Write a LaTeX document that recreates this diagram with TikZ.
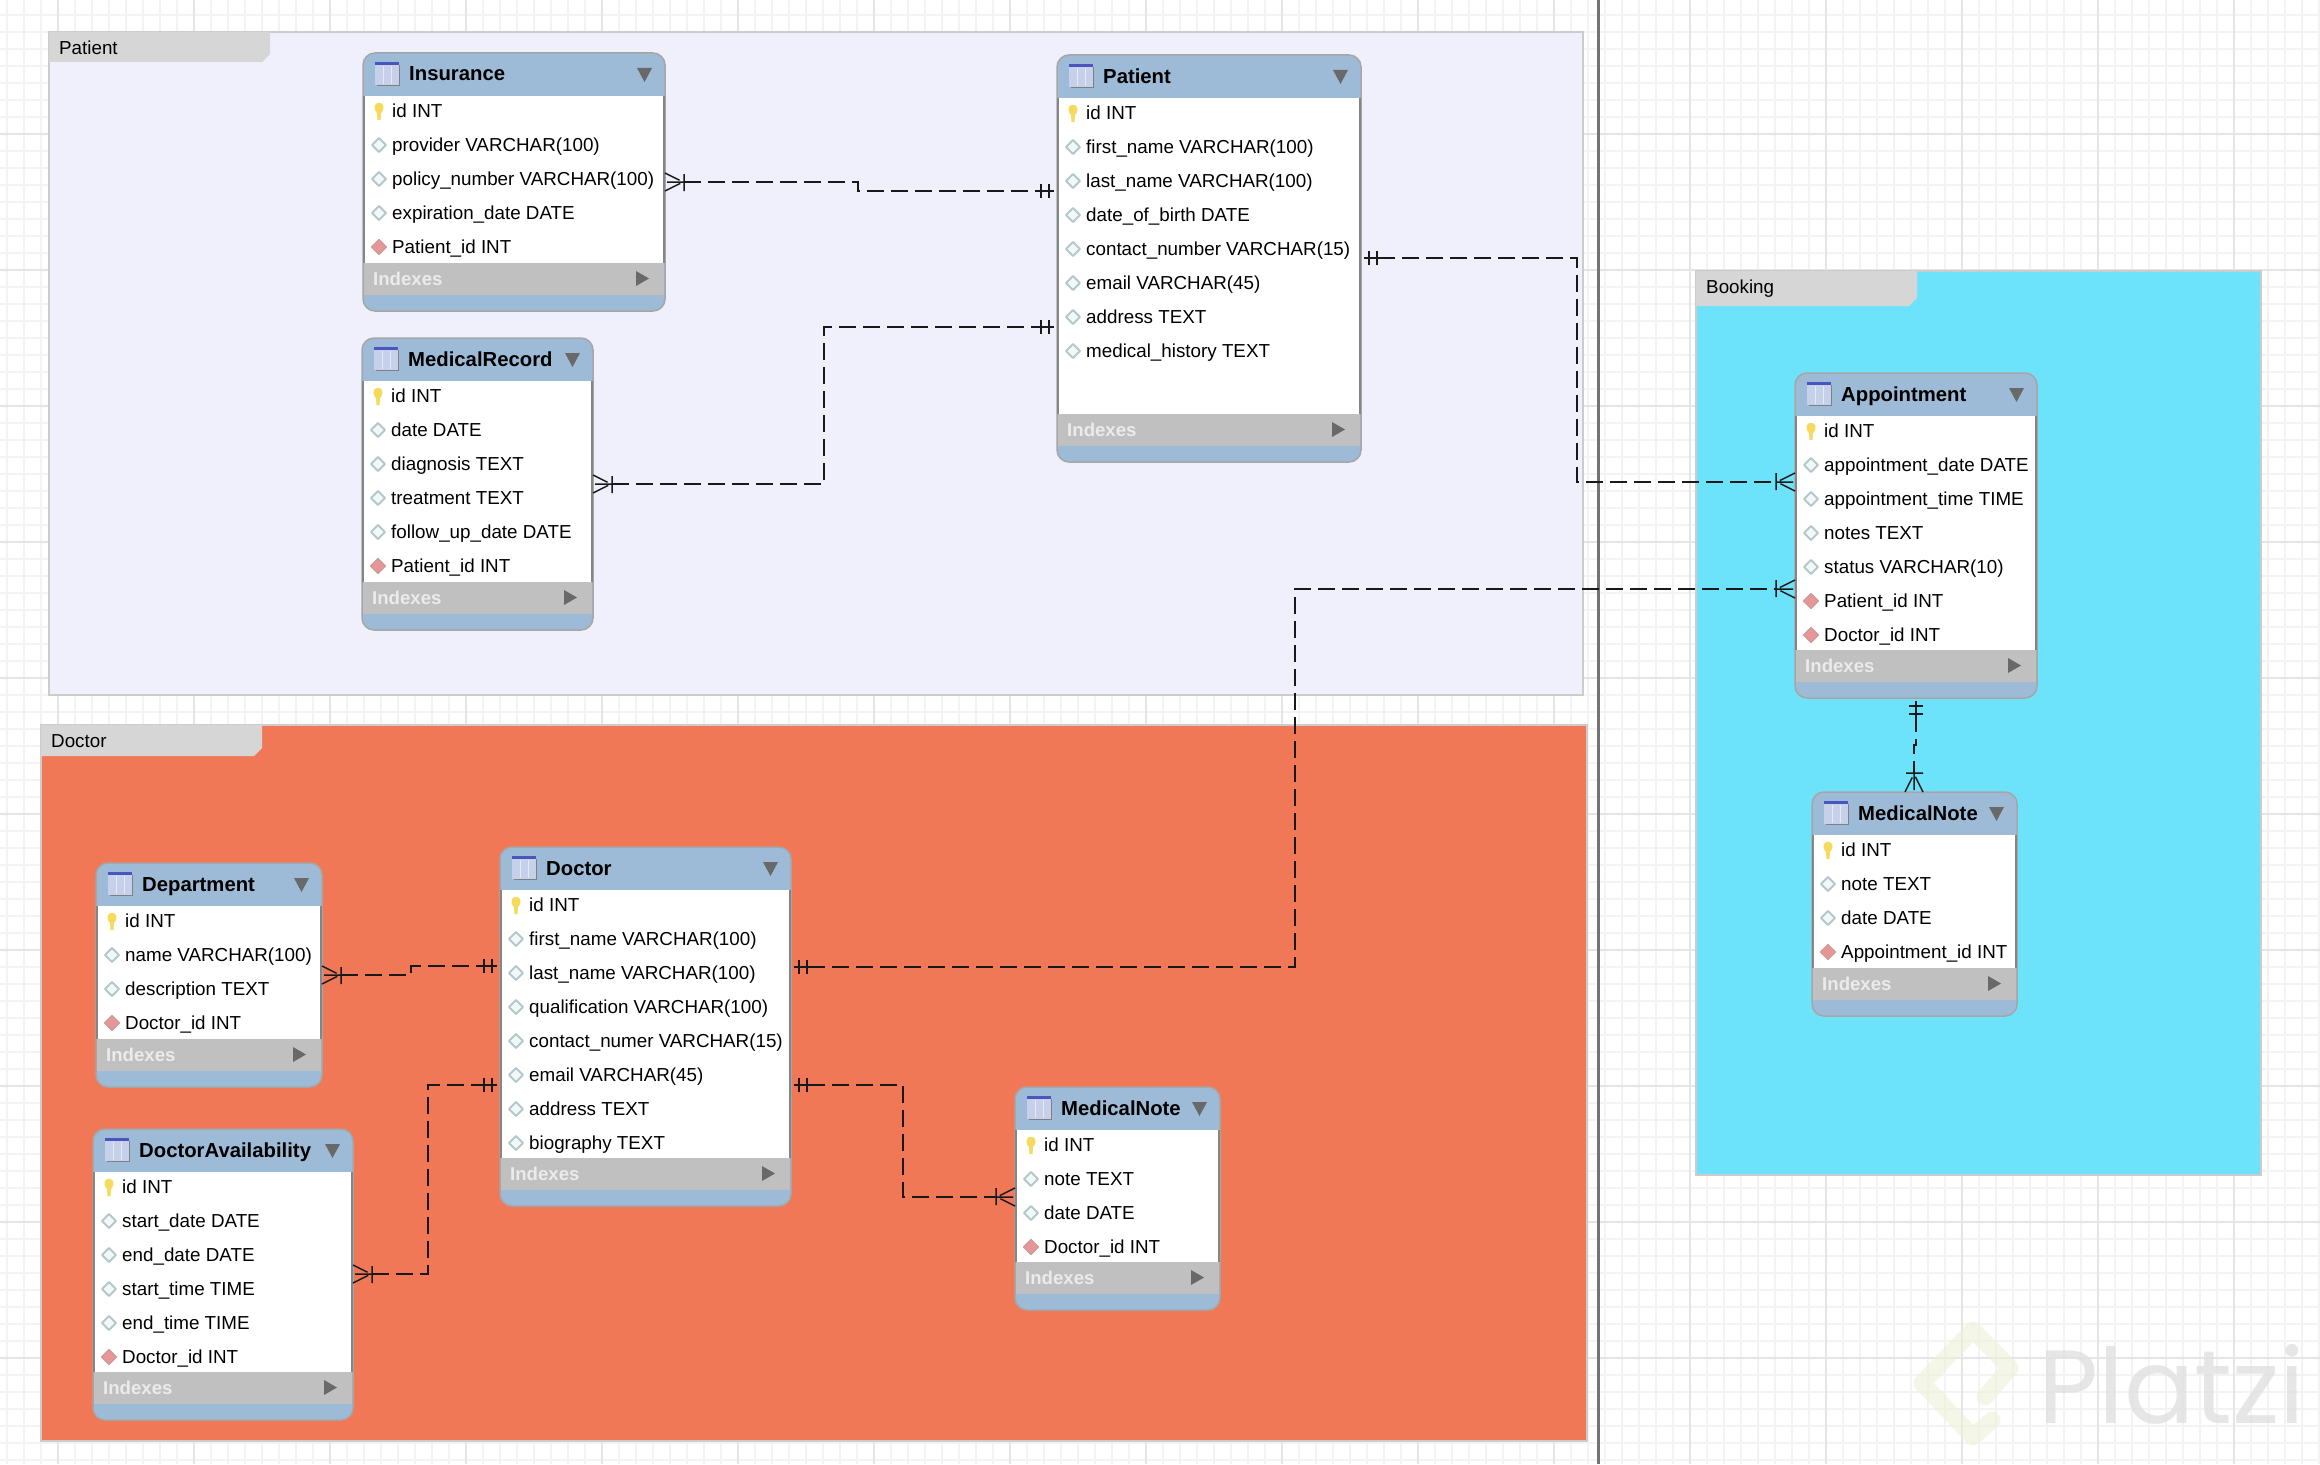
\documentclass[tikz,border=0pt]{standalone}
\usepackage{fontspec}
\setmainfont{Liberation Sans}
\newfontfamily\platzifont{Poppins}
\usepackage{xcolor}
\usepackage{tikz}
\usetikzlibrary{arrows.meta, calc}

\definecolor{gridmin}{HTML}{F3F3F3}
\definecolor{gridmaj}{HTML}{E5E5E5}
\definecolor{patientbg}{HTML}{F0F0FC}
\definecolor{doctorbg}{HTML}{F17857}
\definecolor{bookingbg}{HTML}{6DE3FB}
\definecolor{tabgrey}{HTML}{D6D6D6}
\definecolor{hdrblue}{HTML}{9DBBD7}
\definecolor{idxgrey}{HTML}{C0C0C0}
\definecolor{tipgrey}{HTML}{696969}
\definecolor{iconbg}{HTML}{C6D0EA}
\definecolor{iconbar}{HTML}{4A56C0}
\definecolor{keycol}{HTML}{F6DA5C}
\definecolor{colcol}{HTML}{F2F7F8}
\definecolor{colline}{HTML}{B4C8CB}
\definecolor{fkcol}{HTML}{E69696}
\definecolor{fkline}{HTML}{CF9A9A}

\pgfdeclarearrow{name=erMany,
  setup code={\pgfarrowssettipend{0pt}\pgfarrowssetlineend{-19pt}
    \pgfarrowssetbackend{-19pt}\pgfarrowssetvisualbackend{-19pt}
    \pgfarrowshullpoint{0pt}{9pt}\pgfarrowshullpoint{0pt}{-9pt}\pgfarrowshullpoint{-19pt}{0pt}},
  drawing code={
    \pgfpathmoveto{\pgfqpoint{0pt}{9pt}}\pgfpathlineto{\pgfqpoint{-18pt}{0pt}}
    \pgfpathlineto{\pgfqpoint{0pt}{-9pt}}
    \pgfpathmoveto{\pgfqpoint{-19pt}{0pt}}\pgfpathlineto{\pgfqpoint{0pt}{0pt}}
    \pgfpathmoveto{\pgfqpoint{-19pt}{9pt}}\pgfpathlineto{\pgfqpoint{-19pt}{-9pt}}
    \pgfusepathqstroke}}
\pgfdeclarearrow{name=erOne,
  setup code={\pgfarrowssettipend{0pt}\pgfarrowssetlineend{-17pt}
    \pgfarrowssetbackend{-17pt}\pgfarrowssetvisualbackend{-17pt}
    \pgfarrowshullpoint{0pt}{7pt}\pgfarrowshullpoint{0pt}{-7pt}\pgfarrowshullpoint{-17pt}{0pt}},
  drawing code={
    \pgfpathmoveto{\pgfqpoint{-17pt}{0pt}}\pgfpathlineto{\pgfqpoint{-3pt}{0pt}}
    \pgfpathmoveto{\pgfqpoint{-8pt}{7pt}}\pgfpathlineto{\pgfqpoint{-8pt}{-7pt}}
    \pgfpathmoveto{\pgfqpoint{-16pt}{7pt}}\pgfpathlineto{\pgfqpoint{-16pt}{-7pt}}
    \pgfusepathqstroke}}

\newcommand{\iconk}[2]{%
  \fill[keycol] (#1-4,#2-6) .. controls (#1-5.5,#2-2) and (#1-3,#2+1) .. (#1-2,#2+2)
    -- (#1-1.5,#2+9) -- (#1+1.5,#2+9) -- (#1+2,#2+2)
    .. controls (#1+3,#2+1) and (#1+5.5,#2-2) .. (#1+4,#2-6)
    .. controls (#1+2,#2-9) and (#1-2,#2-9) .. (#1-4,#2-6) -- cycle;}
\newcommand{\icond}[2]{%
  \filldraw[fill=colcol,draw=colline,line width=2pt,line join=round] (#1-7,#2) -- (#1,#2-7) -- (#1+7,#2) -- (#1,#2+7) -- cycle;}
\newcommand{\iconf}[2]{%
  \filldraw[fill=fkcol,draw=fkline,line width=1.2pt,line join=round] (#1-7.5,#2) -- (#1,#2-7.5) -- (#1+7.5,#2) -- (#1,#2+7.5) -- cycle;}

% name, x, y, width, height, title, rows
\newcommand{\erbox}[7]{
  \node[tbl,minimum width=#4pt,minimum height=#5pt] (#1) at (#2,#3) {};
  \fill[white] (#2+2,#3+43) rectangle (#2+#4-2,#3+#5-48);
  \draw[sideline] (#2+1,#3+43) -- (#2+1,#3+#5-48) (#2+#4-1,#3+43) -- (#2+#4-1,#3+#5-48);
  \fill[idxgrey] (#2+1,#3+#5-48) rectangle (#2+#4-1,#3+#5-16);
  \fill[black!50] (#2+14,#3+12) rectangle (#2+37,#3+33);
  \fill[iconbg] (#2+12,#3+10) rectangle (#2+36,#3+32);
  \fill[iconbar] (#2+12,#3+9) rectangle (#2+36,#3+12);
  \draw[white!55!iconbg,line width=1pt] (#2+20,#3+13) -- (#2+20,#3+31) (#2+28,#3+13) -- (#2+28,#3+31);
  \node[ttl] (#1title) at (#2+46,#3+28) {#6};
  \fill[tipgrey] (#2+#4-28,#3+15) -- (#2+#4-13,#3+15) -- (#2+#4-20.5,#3+29) -- cycle;
  \foreach \kind/\txt [count=\n] in {#7} {
    \pgfmathsetmacro\rowy{#3+58+34*(\n-1)}
    \csname icon\kind\endcsname{#2+16}{\rowy}
    \node[rowtxt] (#1r\n) at (#2+29,\rowy+6) {\txt};
  }
  \node[idx] (#1idx) at (#2+10,#3+#5-26) {Indexes};
  \fill[tipgrey] (#2+#4-29,#3+#5-40) -- (#2+#4-16,#3+#5-32.5) -- (#2+#4-29,#3+#5-25) -- cycle;
}

% name, x, y, width, height, tab height, colour, title
\newcommand{\erlayer}[8]{
  \node[area,fill=#7,minimum width=#4pt,minimum height=#5pt] (#1) at (#2,#3) {};
  \fill[tabgrey] (#2,#3) -- (#2+221,#3) -- (#2+221,#3+#6-8) -- (#2+213,#3+#6) -- (#2,#3+#6) -- cycle;
  \node[rowtxt] (#1title) at (#2+10,#3+22.5) {#8};
}

\begin{document}
\begin{tikzpicture}[x=1pt,y=-1pt,
  tbl/.style = {rectangle, draw=black!35, fill=hdrblue, line width=1.5pt, rounded corners=12pt,
                anchor=north west, inner sep=0pt, outer sep=0pt},
  area/.style = {rectangle, draw=black!20, line width=1.5pt, anchor=north west, inner sep=0pt, outer sep=0pt},
  sideline/.style = {draw=black!48, line width=1.3pt},
  ttl/.style = {anchor=base west, inner sep=0pt, font=\fontsize{20.3}{24}\selectfont\bfseries},
  rowtxt/.style = {anchor=base west, inner sep=0pt, font=\fontsize{18.8}{22}\selectfont},
  idx/.style = {anchor=base west, inner sep=0pt, text=white!92!black, font=\fontsize{18.6}{22}\selectfont\bfseries},
  rel/.style = {line width=1.5pt, dash pattern=on 17pt off 7pt, black!90},
]
  \useasboundingbox (0,0) rectangle (2320,1464);

  \fill[white] (0,0) rectangle (2320,1464);
  \foreach \gx in {0,...,136} \draw[gridmin,line width=1.4pt] (7+17*\gx,0) -- (7+17*\gx,1464);
  \foreach \gy in {0,...,86} \draw[gridmin,line width=1.4pt] (0,15+17*\gy) -- (2320,15+17*\gy);
  \foreach \gx in {0,...,16} \draw[gridmaj,line width=1.6pt] (58+136*\gx,0) -- (58+136*\gx,1464);
  \foreach \gy in {-1,...,10} \draw[gridmaj,line width=1.6pt] (0,134+136*\gy) -- (2320,134+136*\gy);

  \draw[opacity=.55,line width=17pt,line join=round,line cap=round,color={rgb,255:red,236;green,242;blue,212}]
    (1985,1397) -- (2010,1368) -- (1973,1330) -- (1922,1383) -- (1973,1437) -- (1992,1420);
  \node[anchor=base west,inner sep=0pt,opacity=.8,text=black!12,font=\fontsize{104}{120}\selectfont\platzifont] (platzi) at (2038,1423) {Platzi};

  \draw[black!55,line width=3pt] (1598,0) -- (1598,1464);

  \erlayer{patientarea}{49}{32}{1534}{663}{30}{patientbg}{Patient}
  \erlayer{doctorarea}{41}{725}{1546}{716}{31}{doctorbg}{Doctor}
  \erlayer{bookingarea}{1696}{271}{565}{904}{35}{bookingbg}{Booking}

  \erbox{insurance}{363}{53}{302}{258}{Insurance}{k/id INT, d/provider VARCHAR(100), d/policy\_number VARCHAR(100), d/expiration\_date DATE, f/Patient\_id INT}
  \erbox{patient}{1057}{55}{304}{407}{Patient}{k/id INT, d/first\_name VARCHAR(100), d/last\_name VARCHAR(100), d/date\_of\_birth DATE, d/contact\_number VARCHAR(15), d/email VARCHAR(45), d/address TEXT, d/medical\_history TEXT}
  \erbox{medicalrecord}{362}{338}{231}{292}{MedicalRecord}{k/id INT, d/date DATE, d/diagnosis TEXT, d/treatment TEXT, d/follow\_up\_date DATE, f/Patient\_id INT}
  \erbox{appointment}{1795}{373}{242}{325}{Appointment}{k/id INT, d/appointment\_date DATE, d/appointment\_time TIME, d/notes TEXT, d/status VARCHAR(10), f/Patient\_id INT, f/Doctor\_id INT}
  \erbox{bookingnote}{1812}{792}{205}{224}{MedicalNote}{k/id INT, d/note TEXT, d/date DATE, f/Appointment\_id INT}
  \erbox{department}{96}{863}{226}{224}{Department}{k/id INT, d/name VARCHAR(100), d/description TEXT, f/Doctor\_id INT}
  \erbox{doctoravail}{93}{1129}{260}{291}{DoctorAvailability}{k/id INT, d/start\_date DATE, d/end\_date DATE, d/start\_time TIME, d/end\_time TIME, f/Doctor\_id INT}
  \erbox{doctor}{500}{847}{291}{359}{Doctor}{k/id INT, d/first\_name VARCHAR(100), d/last\_name VARCHAR(100), d/qualification VARCHAR(100), d/contact\_numer VARCHAR(15), d/email VARCHAR(45), d/address TEXT, d/biography TEXT}
  \erbox{doctornote}{1015}{1087}{205}{223}{MedicalNote}{k/id INT, d/note TEXT, d/date DATE, f/Doctor\_id INT}

  \draw[rel,{erMany}-{erOne}] (insurance.east |- 0,182) -| (858,191) -- (patient.west |- 0,191);
  \draw[rel,{erMany}-{erOne}] (medicalrecord.east |- 0,484) -| (824,327) -- (patient.west |- 0,327);
  \draw[rel,{erOne}-{erMany}] (patient.east |- 0,258) -| (1577,482) -- (appointment.west |- 0,482);
  \draw[rel,{erOne}-{erMany}] (doctor.east |- 0,967) -| (1295,589) -- (appointment.west |- 0,589);
  \draw[rel,{erOne}-{erMany}] (appointment.south -| 1916,0) -- (1916,745) -- (1914,745) -- (bookingnote.north -| 1914,0);
  \draw[rel,{erMany}-{erOne}] (department.east |- 0,975) -| (411,966) -- (doctor.west |- 0,966);
  \draw[rel,{erMany}-{erOne}] (doctoravail.east |- 0,1274) -| (428,1085) -- (doctor.west |- 0,1085);
  \draw[rel,{erOne}-{erMany}] (doctor.east |- 0,1085) -| (903,1197) -- (doctornote.west |- 0,1197);
\end{tikzpicture}
\end{document}
